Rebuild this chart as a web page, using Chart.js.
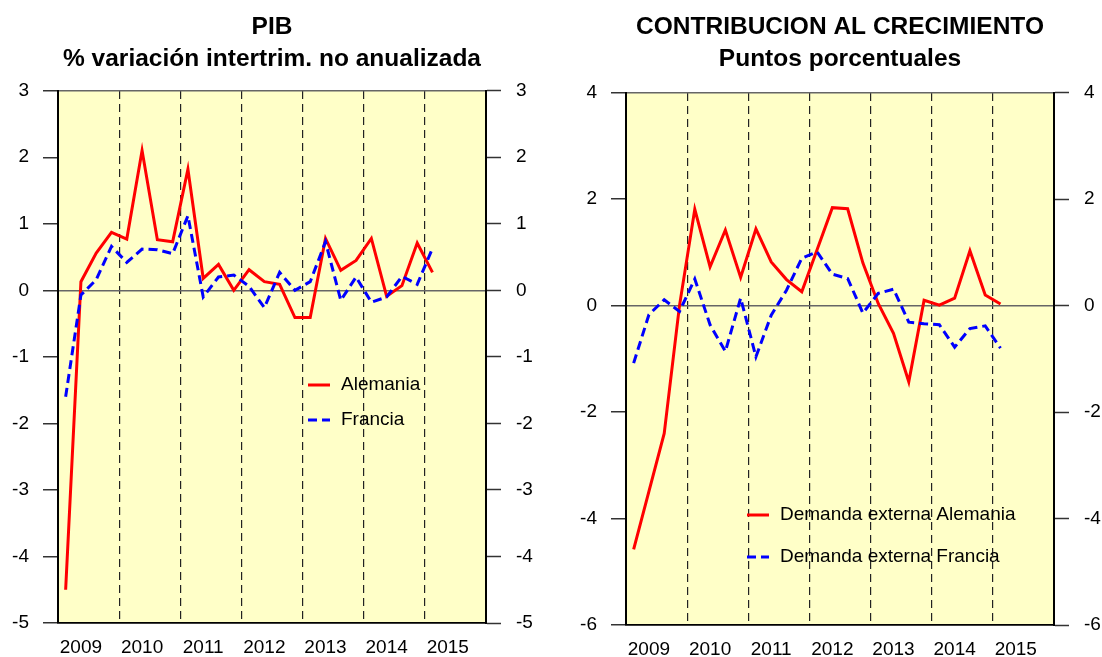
<!DOCTYPE html>
<html>
<head>
<meta charset="utf-8">
<script src="https://cdn.jsdelivr.net/npm/chart.js@4.4.1/dist/chart.umd.min.js"></script>
<style>
  html, body { margin: 0; padding: 0; background: #fff; }
  #wrap { position: relative; width: 1102px; height: 657px; }
  canvas { position: absolute; top: 0; }
  #pib { left: 0; }
  #cont { left: 551px; }
</style>
</head>
<body>
<div id="wrap">
  <canvas id="pib" width="551" height="657"></canvas>
  <canvas id="cont" width="551" height="657"></canvas>
</div>
<script>
// trimestres 2009T1 .. 2015T1
const quarters = ['2009T1','2009T2','2009T3','2009T4','2010T1','2010T2','2010T3','2010T4',
  '2011T1','2011T2','2011T3','2011T4','2012T1','2012T2','2012T3','2012T4',
  '2013T1','2013T2','2013T3','2013T4','2014T1','2014T2','2014T3','2014T4','2015T1'];
const yearLabels = ['2009','2010','2011','2012','2013','2014','2015'];

// PIB, % variación intertrimestral
const pibAlemania = [-4.5, 0.13, 0.56, 0.87, 0.77, 2.10, 0.76, 0.73, 1.82, 0.18, 0.39, 0.0, 0.31,
  0.13, 0.09, -0.41, -0.41, 0.78, 0.30, 0.45, 0.78, -0.09, 0.07, 0.71, 0.27];
const pibFrancia = [-1.6, -0.07, 0.16, 0.66, 0.42, 0.62, 0.61, 0.55, 1.12, -0.10, 0.20, 0.23, 0.06,
  -0.26, 0.27, 0.0, 0.13, 0.73, -0.15, 0.20, -0.18, -0.10, 0.21, 0.09, 0.63];

// contribución de la demanda externa, puntos porcentuales
const extAlemania = [-4.58, -3.49, -2.40, 0.0, 1.81, 0.73, 1.42, 0.53, 1.44, 0.82, 0.49, 0.26, 1.05,
  1.84, 1.82, 0.80, 0.04, -0.52, -1.43, 0.10, 0.01, 0.14, 1.03, 0.20, 0.03];
const extFrancia = [-1.08, -0.17, 0.11, -0.11, 0.50, -0.36, -0.86, 0.14, -0.96, -0.18, 0.29, 0.89, 1.01,
  0.59, 0.51, -0.14, 0.23, 0.31, -0.31, -0.34, -0.36, -0.78, -0.43, -0.38, -0.80];

const FONT = '"Liberation Sans", Arial, sans-serif';
const RED = '#ff0000', BLUE = '#0000ff';

// yellow plot background
const panelBackground = {
  id: 'panelBackground',
  beforeDraw(chart) {
    const { ctx, chartArea: a } = chart;
    ctx.save();
    ctx.fillStyle = '#ffffc8';
    ctx.fillRect(a.left, a.top, a.width, a.height);
    ctx.restore();
  }
};

// legend drawn inside the plot at a fixed spot
const boxLegend = {
  id: 'boxLegend',
  afterDraw(chart, args, opts) {
    const ctx = chart.ctx;
    chart.data.datasets.forEach((ds, i) => {
      const y = opts.y + i * opts.gap;
      ctx.save();
      ctx.strokeStyle = ds.borderColor;
      ctx.lineWidth = 3;
      ctx.setLineDash(ds.borderDash || []);
      ctx.beginPath();
      ctx.moveTo(opts.x, y);
      ctx.lineTo(opts.x + 22, y);
      ctx.stroke();
      ctx.setLineDash([]);
      ctx.fillStyle = '#000';
      ctx.font = '19px ' + FONT;
      ctx.textBaseline = 'middle';
      ctx.fillText(ds.label, opts.x + 33, y);
      ctx.restore();
    });
  }
};

function toPoints(vals) {
  return vals.map((v, i) => ({ x: i, y: v }));
}

function makePanel(id, p) {
  const tickFont = { family: FONT, size: 19 };
  const gridColor = c => {
    const v = c.tick.value;
    if (v === 0 || v === p.max) return '#666';
    if (v === p.min) return '#000';
    return 'rgba(0,0,0,0)';
  };
  return new Chart(document.getElementById(id), {
    type: 'line',
    data: {
      datasets: [
        { label: p.names[0], data: toPoints(p.a), borderColor: RED, borderWidth: 3,
          pointRadius: 0, tension: 0, order: 2 },
        { label: p.names[1], data: toPoints(p.b), borderColor: BLUE, borderWidth: 3,
          borderDash: [9, 5], pointRadius: 0, tension: 0, order: 1 }
      ]
    },
    options: {
      responsive: false,
      animation: false,
      layout: { padding: 0 },
      plugins: {
        legend: { display: false },
        tooltip: { enabled: false },
        title: {
          display: true, fullSize: false, text: p.title, color: '#000',
          font: { family: FONT, size: 24.5, weight: 'bold', lineHeight: 1.28 },
          padding: { top: 12, bottom: p.titleBottom }
        },
        boxLegend: p.legend
      },
      scales: {
        x: {
          type: 'linear', min: -0.5, max: 27.5,
          afterBuildTicks: s => { s.ticks = yearLabels.map((_, k) => ({ value: 1 + 4 * k })); },
          ticks: { callback: v => yearLabels[Math.round((v - 1) / 4)], font: tickFont, color: '#000',
                   padding: 13, maxRotation: 0, autoSkip: false },
          grid: { display: false, drawTicks: false },
          border: { display: true, color: '#000', width: 1.5 },
          afterFit: s => { s.height = p.xH; }
        },
        yearGrid: {
          type: 'linear', position: 'top', min: -0.5, max: 27.5,
          afterBuildTicks: s => { s.ticks = yearLabels.slice(1).map((_, k) => ({ value: 3.5 + 4 * k })); },
          ticks: { display: false },
          grid: { color: '#222', lineWidth: 1.2, drawTicks: false },
          border: { display: false, dash: [8, 5] },
          afterFit: s => { s.height = 0; }
        },
        y: {
          min: p.min, max: p.max,
          ticks: { stepSize: p.step, font: tickFont, color: '#000', padding: 14 },
          grid: { color: gridColor, lineWidth: 1.5, tickLength: 15, tickColor: '#333', tickWidth: 1.5 },
          border: { color: '#000', width: 2 },
          afterFit: s => { s.width = p.leftW; }
        },
        y2: {
          position: 'right', min: p.min, max: p.max,
          ticks: { stepSize: p.step, font: tickFont, color: '#000', padding: 15 },
          grid: { drawOnChartArea: false, tickLength: 15, tickColor: '#333', tickWidth: 1.5 },
          border: { color: '#000', width: 2 },
          afterFit: s => { s.width = p.rightW; }
        }
      }
    },
    plugins: [panelBackground, boxLegend]
  });
}

makePanel('pib', {
  title: ['PIB', '% variación intertrim. no anualizada'],
  names: ['Alemania', 'Francia'],
  a: pibAlemania, b: pibFrancia,
  min: -5, max: 3, step: 1,
  leftW: 58, rightW: 65, xH: 34, titleBottom: 16,
  legend: { x: 308, y: 385, gap: 35 }
});

makePanel('cont', {
  title: ['CONTRIBUCION AL CRECIMIENTO', 'Puntos porcentuales'],
  names: ['Demanda externa Alemania', 'Demanda externa Francia'],
  a: extAlemania, b: extFrancia,
  min: -6, max: 4, step: 2,
  leftW: 75, rightW: 48, xH: 32, titleBottom: 18,
  legend: { x: 196, y: 515, gap: 42 }
});
</script>
</body>
</html>
